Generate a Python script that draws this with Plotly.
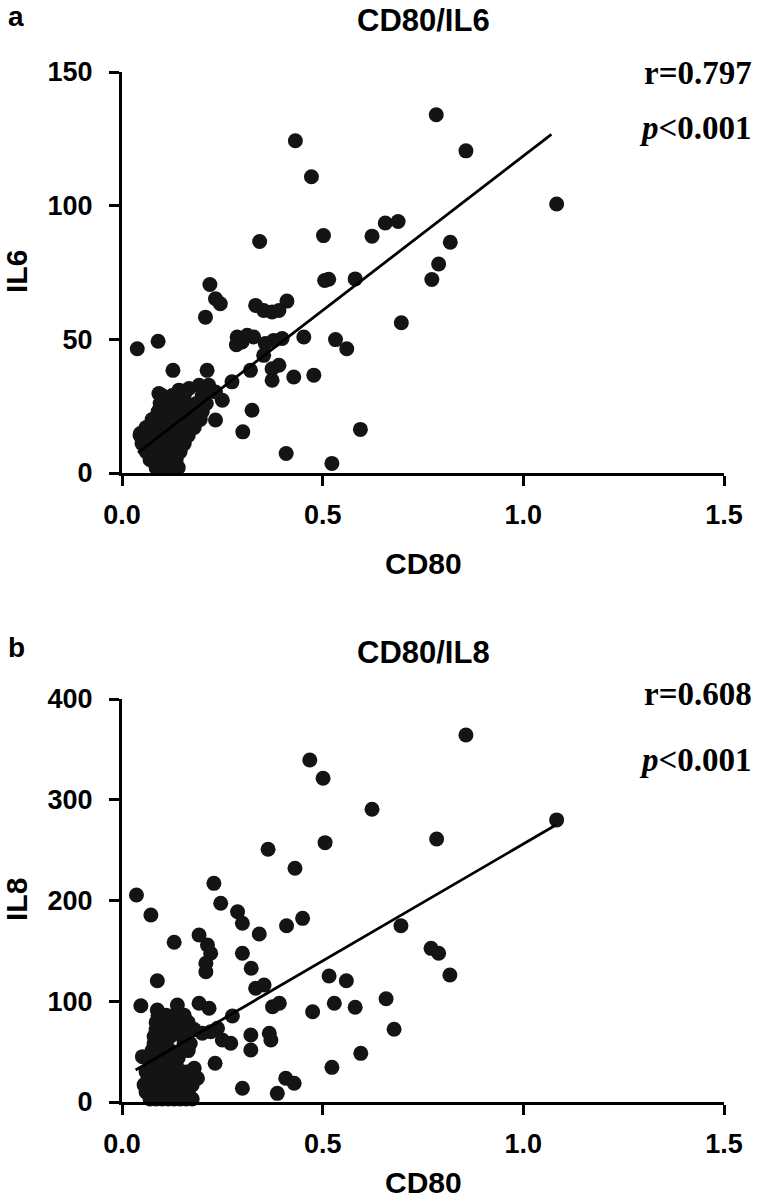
import plotly.graph_objects as go

# ---------------- Panel a: CD80 vs IL6 ----------------
cd80_a_scatter = [0.432, 0.472, 0.502, 0.623, 0.656, 0.688, 0.343, 0.505, 0.515, 0.581,
                  0.219, 0.233, 0.245, 0.208, 0.333, 0.353, 0.374, 0.391, 0.411, 0.783,
                  0.857, 1.083, 0.818, 0.789, 0.772, 0.696, 0.038, 0.090, 0.127, 0.212,
                  0.287, 0.299, 0.312, 0.328, 0.285, 0.357, 0.378, 0.399, 0.453, 0.532,
                  0.560, 0.353, 0.320, 0.374, 0.391, 0.374, 0.428, 0.478, 0.274, 0.324,
                  0.301, 0.594, 0.409, 0.523, 0.233, 0.250, 0.092, 0.142, 0.167, 0.192,
                  0.216, 0.233, 0.046]
il6_a_scatter = [124.3, 110.8, 88.8, 88.6, 93.5, 94.1, 86.6, 72.0, 72.5, 72.6,
                 70.5, 65.2, 63.3, 58.3, 62.7, 60.8, 60.2, 60.8, 64.3, 134.0,
                 120.5, 100.6, 86.3, 78.2, 72.4, 56.2, 46.5, 49.3, 38.4, 38.4,
                 50.9, 49.0, 51.5, 50.9, 48.0, 48.4, 49.6, 50.3, 50.9, 49.9,
                 46.5, 44.0, 38.4, 39.0, 40.3, 34.7, 35.9, 36.6, 34.1, 23.5,
                 15.4, 16.3, 7.3, 3.6, 19.8, 27.2, 29.7, 31.0, 31.6, 32.8,
                 32.8, 30.3, 14.8]
cd80_a_cluster = [0.085, 0.105, 0.125, 0.140,
                  0.070, 0.090, 0.115, 0.135,
                  0.060, 0.080, 0.100, 0.120, 0.145,
                  0.050, 0.075, 0.100, 0.130, 0.155,
                  0.045, 0.070, 0.095, 0.115, 0.140, 0.165,
                  0.060, 0.085, 0.110, 0.135, 0.160, 0.180,
                  0.075, 0.100, 0.125, 0.150, 0.175, 0.195,
                  0.090, 0.120, 0.145, 0.170, 0.200,
                  0.095, 0.130, 0.160, 0.185, 0.210,
                  0.100, 0.125, 0.155, 0.200]
il6_a_cluster = [2, 2, 2, 2,
                 5, 5, 5, 5,
                 8, 8, 8, 8, 8,
                 11, 11, 11, 11, 11,
                 14, 14, 14, 14, 14, 14,
                 17, 17, 17, 17, 17, 17,
                 20, 20, 20, 20, 20, 20,
                 23, 23, 23, 23, 23,
                 26, 26, 26, 26, 26,
                 29, 29, 29, 29]
fit_a = dict(slope=115.6, intercept=3.0, x_from=0.04, x_to=1.07)
stats_a = ["r=0.797", "p<0.001"]

# ---------------- Panel b: CD80 vs IL8 ----------------
cd80_b_scatter = [0.468, 0.501, 0.623, 0.506, 0.364, 0.431, 0.229, 0.036, 0.246, 0.072,
                  0.288, 0.300, 0.342, 0.410, 0.450, 0.130, 0.192, 0.213, 0.221, 0.209,
                  0.209, 0.300, 0.322, 0.333, 0.354, 0.088, 0.516, 0.559, 0.658, 0.047,
                  0.375, 0.392, 0.475, 0.529, 0.581, 0.275, 0.678, 0.321, 0.367, 0.371,
                  0.321, 0.595, 0.232, 0.523, 0.300, 0.387, 0.408, 0.429, 0.250, 0.271,
                  0.238, 0.221, 0.200, 0.192, 0.217, 0.138, 0.088, 0.051, 0.180, 0.188,
                  0.857, 1.083, 0.784, 0.695, 0.770, 0.789, 0.817]
il8_b_scatter = [339.5, 321.3, 290.5, 257.4, 250.8, 232.0, 217.0, 205.5, 197.2, 185.6,
                 188.9, 177.4, 166.7, 175.0, 182.3, 158.5, 165.8, 155.8, 147.6, 137.7,
                 129.3, 147.6, 132.7, 112.9, 116.1, 120.4, 125.0, 120.4, 102.5, 95.6,
                 94.6, 98.0, 89.6, 98.0, 94.0, 85.4, 72.2, 66.5, 68.2, 61.5,
                 51.6, 48.3, 38.4, 34.4, 13.6, 8.6, 23.5, 18.6, 61.5, 58.3,
                 73.2, 69.8, 68.2, 98.0, 93.0, 96.3, 91.3, 45.0, 33.4, 23.5,
                 364.3, 280.0, 261.0, 175.0, 152.5, 147.6, 126.0]
cd80_b_cluster = [0.070, 0.085, 0.100, 0.115, 0.130, 0.145, 0.160, 0.175,
                  0.060, 0.075, 0.090, 0.105, 0.120, 0.135, 0.150, 0.165,
                  0.055, 0.070, 0.085, 0.100, 0.115, 0.130, 0.145, 0.160, 0.175,
                  0.065, 0.080, 0.095, 0.110, 0.125, 0.140, 0.155,
                  0.060, 0.075, 0.090, 0.105, 0.120, 0.135, 0.150, 0.165,
                  0.075, 0.090, 0.105, 0.120, 0.135,
                  0.080, 0.095, 0.110, 0.125, 0.140,
                  0.075, 0.090, 0.105, 0.120, 0.150, 0.165,
                  0.080, 0.095, 0.110, 0.155, 0.170,
                  0.080, 0.095, 0.110, 0.120, 0.150,
                  0.085, 0.100, 0.115, 0.135, 0.160, 0.180,
                  0.085, 0.100, 0.115, 0.140, 0.165,
                  0.090, 0.110, 0.130, 0.155]
il8_b_cluster = [3, 3, 3, 3, 3, 3, 3, 3,
                 10, 10, 10, 10, 10, 10, 10, 10,
                 17, 17, 17, 17, 17, 17, 17, 17, 17,
                 24, 24, 24, 24, 24, 24, 24,
                 30, 30, 30, 30, 30, 30, 30, 30,
                 37, 37, 37, 37, 37,
                 44, 44, 44, 44, 44,
                 51, 51, 51, 51, 51, 51,
                 58, 58, 58, 58, 58,
                 65, 65, 65, 65, 65,
                 72, 72, 72, 72, 72, 72,
                 79, 79, 79, 79, 79,
                 86, 86, 86, 86]
fit_b = dict(slope=232.2, intercept=23.9, x_from=0.034, x_to=1.081)
stats_b = ["r=0.608", "p<0.001"]

x_ticks = [0.0, 0.5, 1.0, 1.5]
x_ticktext = ["0.0", "0.5", "1.0", "1.5"]
y_ticks_a = [0, 50, 100, 150]
y_ticks_b = [0, 100, 200, 300, 400]

W, H = 760, 1199
SANS = "Liberation Sans, Arial, sans-serif"
SERIF = "Liberation Serif, Times New Roman, serif"
DOT = "#141414"

fig = go.Figure()


def add_panel(fig, xs, ys, fit, xref, yref):
    fig.add_trace(go.Scatter(
        x=xs, y=ys, mode="markers", xaxis=xref, yaxis=yref,
        marker=dict(size=15, color=DOT, line=dict(width=0)),
        cliponaxis=False, showlegend=False, hoverinfo="x+y"))
    lx = [fit["x_from"], fit["x_to"]]
    ly = [fit["intercept"] + fit["slope"] * v for v in lx]
    fig.add_trace(go.Scatter(
        x=lx, y=ly, mode="lines", xaxis=xref, yaxis=yref,
        line=dict(color="black", width=2.8), cliponaxis=False,
        showlegend=False, hoverinfo="skip"))


add_panel(fig, cd80_a_scatter + cd80_a_cluster, il6_a_scatter + il6_a_cluster, fit_a, "x", "y")
add_panel(fig, cd80_b_scatter + cd80_b_cluster, il8_b_scatter + il8_b_cluster, fit_b, "x2", "y2")


def px_x(p):
    return p / W


def px_y(p):
    return 1 - p / H


x_dom = [px_x(122), px_x(724)]
axis_common = dict(showline=True, linecolor="black", linewidth=3, ticks="outside",
                   ticklen=10, tickwidth=3, tickcolor="black", showgrid=False,
                   zeroline=False, automargin=False,
                   tickfont=dict(family=SANS, size=27, color="black", weight="bold"))
xa = dict(axis_common, ticklabelstandoff=6)
ya = dict(axis_common, ticklabelstandoff=11)

fig.update_layout(
    width=W, height=H, margin=dict(l=0, r=0, t=0, b=0, pad=0),
    paper_bgcolor="white", plot_bgcolor="white", showlegend=False,
    xaxis=dict(domain=x_dom, range=[0, 1.5], tickvals=x_ticks, ticktext=x_ticktext,
               anchor="y", **xa),
    yaxis=dict(domain=[px_y(473), px_y(72)], range=[0, 150], tickvals=y_ticks_a,
               anchor="x", **ya),
    xaxis2=dict(domain=x_dom, range=[0, 1.5], tickvals=x_ticks, ticktext=x_ticktext,
                anchor="y2", **xa),
    yaxis2=dict(domain=[px_y(1102), px_y(699)], range=[0, 400], tickvals=y_ticks_b,
                anchor="x2", **ya),
)


def ann(text, xp, yp, size, family=SANS, xanchor="center", angle=0):
    fig.add_annotation(text=text, x=px_x(xp), y=px_y(yp), xref="paper", yref="paper",
                       xanchor=xanchor, yanchor="middle", showarrow=False, textangle=angle,
                       font=dict(family=family, size=size, color="black", weight="bold"))


# panel letters and titles
ann("a", 6, 16, 28, xanchor="left")
ann("CD80/IL6", 423, 20, 31)
ann("b", 6, 647, 28, xanchor="left")
ann("CD80/IL8", 423, 652, 31)

# axis titles
ann("IL6", 16, 272, 30, angle=-90)
ann("CD80", 423, 563, 30)
ann("IL8", 16, 900, 30, angle=-90)
ann("CD80", 423, 1182, 30)

# statistics
ann(stats_a[0], 754, 73, 33, family=SERIF, xanchor="right")
ann("<i>p</i>&lt;" + stats_a[1][2:], 754, 128, 33, family=SERIF, xanchor="right")
ann(stats_b[0], 754, 694, 33, family=SERIF, xanchor="right")
ann("<i>p</i>&lt;" + stats_b[1][2:], 754, 760, 33, family=SERIF, xanchor="right")

fig.write_html("out.html", config={"displayModeBar": False},
               post_script="document.body.style.margin='0';"
                           "document.body.style.overflow='hidden';")
